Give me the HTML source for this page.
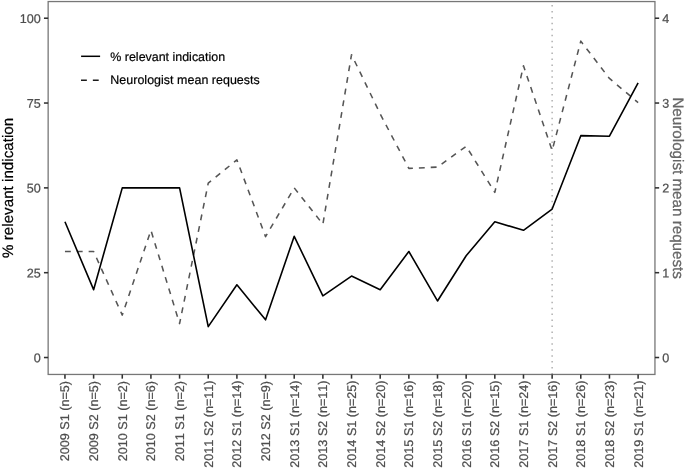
<!DOCTYPE html>
<html lang="en"><head><meta charset="utf-8"><title>Chart</title>
<style>
html,body{margin:0;padding:0;background:#fff;}
text{stroke-width:0.22px;stroke-linejoin:round;}
.t{stroke:#4d4d4d;}
.k{stroke:#000;stroke-width:0.2px;}
.g{stroke:#666;stroke-width:0.28px;}
svg{display:block;text-rendering:geometricPrecision;font-family:"Liberation Sans",sans-serif;font-kerning:none;}
</style></head><body>
<svg width="685" height="469" viewBox="0 0 685 469">
<rect width="685" height="469" fill="#fff"/>
<line x1="552.14" y1="374.45" x2="552.14" y2="1.55" stroke="#b0b0b0" stroke-width="1.5" stroke-dasharray="1.5 4.434"/>
<polyline points="64.95,251.49 93.61,251.49 122.27,315.11 150.92,230.28 179.58,323.59 208.24,183.20 236.90,159.88 265.56,236.64 294.21,187.87 322.87,224.18 351.53,54.69 380.19,113.90 408.85,168.36 437.50,167.09 466.16,146.31 494.82,192.37 523.48,65.72 552.14,150.55 580.79,41.12 609.45,78.45 638.11,102.62" fill="none" stroke="#555" stroke-width="1.55" stroke-dasharray="5.85 6" stroke-linejoin="round"/>
<polyline points="64.95,221.80 93.61,289.66 122.27,187.87 150.92,187.87 179.58,187.87 208.24,326.67 236.90,284.81 265.56,319.82 294.21,236.34 322.87,295.83 351.53,276.09 380.19,289.66 408.85,251.49 437.50,300.97 466.16,255.73 494.82,221.80 523.48,230.28 552.14,209.08 580.79,135.67 609.45,136.24 638.11,82.85" fill="none" stroke="#000" stroke-width="1.6" stroke-linejoin="round"/>
<rect x="48.15" y="1.55" width="606.80" height="372.90" fill="none" stroke="#777" stroke-width="1.3"/>
<line x1="43.95" y1="357.52" x2="48.15" y2="357.52" stroke="#303030" stroke-width="1.55"/>
<text transform="translate(40.85,362.27) rotate(0.03)" font-size="12.6" class="t" fill="#4d4d4d" text-anchor="end">0</text>
<line x1="43.95" y1="272.69" x2="48.15" y2="272.69" stroke="#303030" stroke-width="1.55"/>
<text transform="translate(40.85,277.44) rotate(0.03)" font-size="12.6" class="t" fill="#4d4d4d" text-anchor="end">25</text>
<line x1="43.95" y1="187.87" x2="48.15" y2="187.87" stroke="#303030" stroke-width="1.55"/>
<text transform="translate(40.85,192.62) rotate(0.03)" font-size="12.6" class="t" fill="#4d4d4d" text-anchor="end">50</text>
<line x1="43.95" y1="103.04" x2="48.15" y2="103.04" stroke="#303030" stroke-width="1.55"/>
<text transform="translate(40.85,107.79) rotate(0.03)" font-size="12.6" class="t" fill="#4d4d4d" text-anchor="end">75</text>
<line x1="43.95" y1="18.22" x2="48.15" y2="18.22" stroke="#303030" stroke-width="1.55"/>
<text transform="translate(40.85,22.97) rotate(0.03)" font-size="12.6" class="t" fill="#4d4d4d" text-anchor="end">100</text>
<line x1="654.95" y1="357.52" x2="659.15" y2="357.52" stroke="#303030" stroke-width="1.55"/>
<text transform="translate(662.15,362.27) rotate(0.03)" font-size="12.6" class="t" fill="#4d4d4d">0</text>
<line x1="654.95" y1="272.69" x2="659.15" y2="272.69" stroke="#303030" stroke-width="1.55"/>
<text transform="translate(662.15,277.44) rotate(0.03)" font-size="12.6" class="t" fill="#4d4d4d">1</text>
<line x1="654.95" y1="187.87" x2="659.15" y2="187.87" stroke="#303030" stroke-width="1.55"/>
<text transform="translate(662.15,192.62) rotate(0.03)" font-size="12.6" class="t" fill="#4d4d4d">2</text>
<line x1="654.95" y1="103.04" x2="659.15" y2="103.04" stroke="#303030" stroke-width="1.55"/>
<text transform="translate(662.15,107.79) rotate(0.03)" font-size="12.6" class="t" fill="#4d4d4d">3</text>
<line x1="654.95" y1="18.22" x2="659.15" y2="18.22" stroke="#303030" stroke-width="1.55"/>
<text transform="translate(662.15,22.97) rotate(0.03)" font-size="12.6" class="t" fill="#4d4d4d">4</text>
<line x1="64.95" y1="374.45" x2="64.95" y2="378.65" stroke="#303030" stroke-width="1.55"/>
<text transform="translate(69.35,381.05) rotate(-90)" font-size="12.6" class="t" fill="#4d4d4d" text-anchor="end">2009 S1 (n=5)</text>
<line x1="93.61" y1="374.45" x2="93.61" y2="378.65" stroke="#303030" stroke-width="1.55"/>
<text transform="translate(98.01,381.05) rotate(-90)" font-size="12.6" class="t" fill="#4d4d4d" text-anchor="end">2009 S2 (n=5)</text>
<line x1="122.27" y1="374.45" x2="122.27" y2="378.65" stroke="#303030" stroke-width="1.55"/>
<text transform="translate(126.67,381.05) rotate(-90)" font-size="12.6" class="t" fill="#4d4d4d" text-anchor="end">2010 S1 (n=2)</text>
<line x1="150.92" y1="374.45" x2="150.92" y2="378.65" stroke="#303030" stroke-width="1.55"/>
<text transform="translate(155.32,381.05) rotate(-90)" font-size="12.6" class="t" fill="#4d4d4d" text-anchor="end">2010 S2 (n=6)</text>
<line x1="179.58" y1="374.45" x2="179.58" y2="378.65" stroke="#303030" stroke-width="1.55"/>
<text transform="translate(183.98,381.05) rotate(-90)" font-size="12.6" class="t" fill="#4d4d4d" text-anchor="end">2011 S1 (n=2)</text>
<line x1="208.24" y1="374.45" x2="208.24" y2="378.65" stroke="#303030" stroke-width="1.55"/>
<text transform="translate(212.64,380.45) rotate(-90)" font-size="12.6" class="t" fill="#4d4d4d" text-anchor="end">2011 S2 (n=11)</text>
<line x1="236.90" y1="374.45" x2="236.90" y2="378.65" stroke="#303030" stroke-width="1.55"/>
<text transform="translate(241.30,380.45) rotate(-90)" font-size="12.6" class="t" fill="#4d4d4d" text-anchor="end">2012 S1 (n=14)</text>
<line x1="265.56" y1="374.45" x2="265.56" y2="378.65" stroke="#303030" stroke-width="1.55"/>
<text transform="translate(269.96,381.05) rotate(-90)" font-size="12.6" class="t" fill="#4d4d4d" text-anchor="end">2012 S2 (n=9)</text>
<line x1="294.21" y1="374.45" x2="294.21" y2="378.65" stroke="#303030" stroke-width="1.55"/>
<text transform="translate(298.61,380.45) rotate(-90)" font-size="12.6" class="t" fill="#4d4d4d" text-anchor="end">2013 S1 (n=14)</text>
<line x1="322.87" y1="374.45" x2="322.87" y2="378.65" stroke="#303030" stroke-width="1.55"/>
<text transform="translate(327.27,380.45) rotate(-90)" font-size="12.6" class="t" fill="#4d4d4d" text-anchor="end">2013 S2 (n=11)</text>
<line x1="351.53" y1="374.45" x2="351.53" y2="378.65" stroke="#303030" stroke-width="1.55"/>
<text transform="translate(355.93,380.45) rotate(-90)" font-size="12.6" class="t" fill="#4d4d4d" text-anchor="end">2014 S1 (n=25)</text>
<line x1="380.19" y1="374.45" x2="380.19" y2="378.65" stroke="#303030" stroke-width="1.55"/>
<text transform="translate(384.59,380.45) rotate(-90)" font-size="12.6" class="t" fill="#4d4d4d" text-anchor="end">2014 S2 (n=20)</text>
<line x1="408.85" y1="374.45" x2="408.85" y2="378.65" stroke="#303030" stroke-width="1.55"/>
<text transform="translate(413.25,380.45) rotate(-90)" font-size="12.6" class="t" fill="#4d4d4d" text-anchor="end">2015 S1 (n=16)</text>
<line x1="437.50" y1="374.45" x2="437.50" y2="378.65" stroke="#303030" stroke-width="1.55"/>
<text transform="translate(441.90,380.45) rotate(-90)" font-size="12.6" class="t" fill="#4d4d4d" text-anchor="end">2015 S2 (n=18)</text>
<line x1="466.16" y1="374.45" x2="466.16" y2="378.65" stroke="#303030" stroke-width="1.55"/>
<text transform="translate(470.56,380.45) rotate(-90)" font-size="12.6" class="t" fill="#4d4d4d" text-anchor="end">2016 S1 (n=20)</text>
<line x1="494.82" y1="374.45" x2="494.82" y2="378.65" stroke="#303030" stroke-width="1.55"/>
<text transform="translate(499.22,380.45) rotate(-90)" font-size="12.6" class="t" fill="#4d4d4d" text-anchor="end">2016 S2 (n=15)</text>
<line x1="523.48" y1="374.45" x2="523.48" y2="378.65" stroke="#303030" stroke-width="1.55"/>
<text transform="translate(527.88,380.45) rotate(-90)" font-size="12.6" class="t" fill="#4d4d4d" text-anchor="end">2017 S1 (n=24)</text>
<line x1="552.14" y1="374.45" x2="552.14" y2="378.65" stroke="#303030" stroke-width="1.55"/>
<text transform="translate(556.54,380.45) rotate(-90)" font-size="12.6" class="t" fill="#4d4d4d" text-anchor="end">2017 S2 (n=16)</text>
<line x1="580.79" y1="374.45" x2="580.79" y2="378.65" stroke="#303030" stroke-width="1.55"/>
<text transform="translate(585.19,380.45) rotate(-90)" font-size="12.6" class="t" fill="#4d4d4d" text-anchor="end">2018 S1 (n=26)</text>
<line x1="609.45" y1="374.45" x2="609.45" y2="378.65" stroke="#303030" stroke-width="1.55"/>
<text transform="translate(613.85,380.45) rotate(-90)" font-size="12.6" class="t" fill="#4d4d4d" text-anchor="end">2018 S2 (n=23)</text>
<line x1="638.11" y1="374.45" x2="638.11" y2="378.65" stroke="#303030" stroke-width="1.55"/>
<text transform="translate(642.51,380.45) rotate(-90)" font-size="12.6" class="t" fill="#4d4d4d" text-anchor="end">2019 S1 (n=21)</text>
<text transform="translate(13.15,187.85) rotate(-90)" font-size="15.2" class="k" fill="#000" text-anchor="middle">% relevant indication</text>
<text transform="translate(672.85,188.15) rotate(90)" font-size="15.2" class="g" fill="#666" text-anchor="middle">Neurologist mean requests</text>
<line x1="81.1" y1="56.3" x2="100.1" y2="56.3" stroke="#000" stroke-width="1.5"/>
<line x1="81.0" y1="80.2" x2="100.1" y2="80.2" stroke="#1a1a1a" stroke-width="1.5" stroke-dasharray="5.85 6"/>
<text x="110.3" y="60.75" font-size="12.45" class="k" fill="#000">% relevant indication</text>
<text x="110.3" y="84.2" letter-spacing="0.035" font-size="12.45" class="k" fill="#000">Neurologist mean requests</text>
</svg>
</body></html>
